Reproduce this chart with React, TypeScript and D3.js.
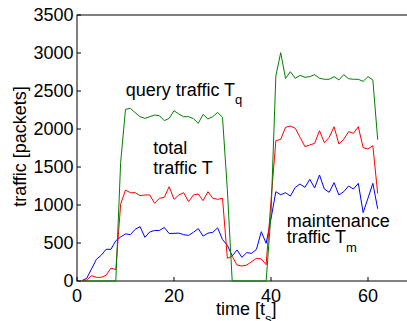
import React from "react";
import * as d3 from "d3";

const timeSteps: number[] = Array.from({ length: 62 }, (_, i) => i + 1);

const queryTraffic: number[] = [
  0, 0, 0, 0, 0, 0, 0, 0, 1560, 2259,
  2272, 2215, 2162, 2140, 2162, 2184, 2175, 2110, 2140, 2241,
  2197, 2162, 2162, 2136, 2075, 2193, 2132, 2162, 2219, 2153,
  1200, 0, 0, 0, 0, 0, 0, 0, 0, 880,
  2700, 3004, 2665, 2754, 2667, 2706, 2680, 2689, 2715, 2667,
  2654, 2654, 2689, 2645, 2715, 2662, 2654, 2654, 2627, 2689,
  2645, 1860,
];

const totalTraffic: number[] = [
  0, 13, 70, 48, 48, 75, 170, 150, 1010, 1197,
  1162, 1162, 1123, 1132, 1132, 1022, 1088, 1101, 1241, 1075,
  1132, 1162, 1043, 1132, 1145, 1057, 1175, 1088, 1075, 1088,
  300, 325, 210, 197, 210, 254, 298, 290, 215, 1050,
  1846, 1864, 2022, 2039, 2009, 1890, 1768, 1790, 1812, 1978,
  1820, 1890, 2030, 1803, 1865, 1965, 1943, 2030, 1754, 1737,
  1780, 1150,
];

const maintenanceTraffic: number[] = [
  5, 35, 160, 285, 340, 417, 417, 530, 580, 620,
  610, 680, 715, 575, 645, 665, 665, 705, 625, 627,
  630, 610, 600, 640, 690, 590, 630, 640, 700, 545,
  470, 330, 408, 311, 373, 364, 416, 649, 495, 820,
  1175, 1135, 1162, 1118, 1232, 1276, 1232, 1338, 1224, 1395,
  1210, 1167, 1294, 1132, 1175, 1250, 1210, 1285, 900, 1090,
  1285, 950,
];

const yTicks: number[] = [0, 500, 1000, 1500, 2000, 2500, 3000, 3500];
const xTicks: number[] = [0, 20, 40, 60];

const W = 407;
const H = 321;
const FONT = "'Liberation Sans', Arial, Helvetica, sans-serif";

export default function App() {
  const x = d3.scaleLinear().domain([0, 70]).range([77, 416.5]);
  const y = d3.scaleLinear().domain([0, 3500]).range([281, 15]);

  const mk = (vals: number[]) =>
    d3
      .line<number>()
      .x((_, i) => x(timeSteps[i]))
      .y((d) => y(d))(vals) || "";

  const x0 = x(0);
  const x1 = x(70);
  const yTop = y(3500);
  const yBot = y(0);

  return (
    <svg
      width={W}
      height={H}
      style={{ position: "absolute", left: 0, top: 0, background: "#fff" }}
      fontFamily={FONT}
    >
      <rect x={0} y={0} width={W} height={H} fill="#fff" />
      {/* frame */}
      <rect
        x={x0}
        y={yTop}
        width={x1 - x0}
        height={yBot - yTop}
        fill="none"
        stroke="#000"
        strokeWidth={1}
      />
      {/* ticks */}
      {yTicks.map((t) => (
        <g key={"y" + t}>
          <line x1={x0} x2={x0 + 4} y1={y(t)} y2={y(t)} stroke="#000" />
          <text
            x={73.5}
            y={y(t)}
            dy="0.33em"
            textAnchor="end"
            fontSize={18}
            fill="#000"
          >
            {t}
          </text>
        </g>
      ))}
      {xTicks.map((t) => (
        <g key={"x" + t}>
          <line x1={x(t)} x2={x(t)} y1={yBot} y2={yBot - 4} stroke="#000" />
          <text
            x={x(t)}
            y={301.5}
            textAnchor="middle"
            fontSize={18}
            fill="#000"
          >
            {t}
          </text>
        </g>
      ))}
      {/* series */}
      <path d={mk(maintenanceTraffic)} fill="none" stroke="#0000ff" strokeWidth={1} />
      <path d={mk(totalTraffic)} fill="none" stroke="#ff0000" strokeWidth={1} />
      <path d={mk(queryTraffic)} fill="none" stroke="#008000" strokeWidth={1} />

      {/* axis labels */}
      <text x={216} y={315} fontSize={18} fill="#000">
        time [t
        <tspan fontSize={13} dy={8}>s</tspan>
        <tspan dy={-8}>]</tspan>
      </text>
      <text
        transform="translate(26,146.5) rotate(-90)"
        textAnchor="middle"
        fontSize={18}
        fill="#000"
      >
        traffic [packets]
      </text>

      {/* annotations */}
      <text x={125.7} y={96} fontSize={18} fill="#000">
        query traffic T<tspan fontSize={13} dy={7.5}>q</tspan>
      </text>
      <text x={153.3} y={153.5} fontSize={18} fill="#000">
        total
      </text>
      <text x={153.3} y={173.5} fontSize={18} fill="#000">
        traffic T
      </text>
      <text x={286.7} y={226.5} fontSize={18} fill="#000">
        maintenance
      </text>
      <text x={286.7} y={243} fontSize={18} fill="#000">
        traffic T<tspan fontSize={13} dy={8.5}>m</tspan>
      </text>
    </svg>
  );
}
